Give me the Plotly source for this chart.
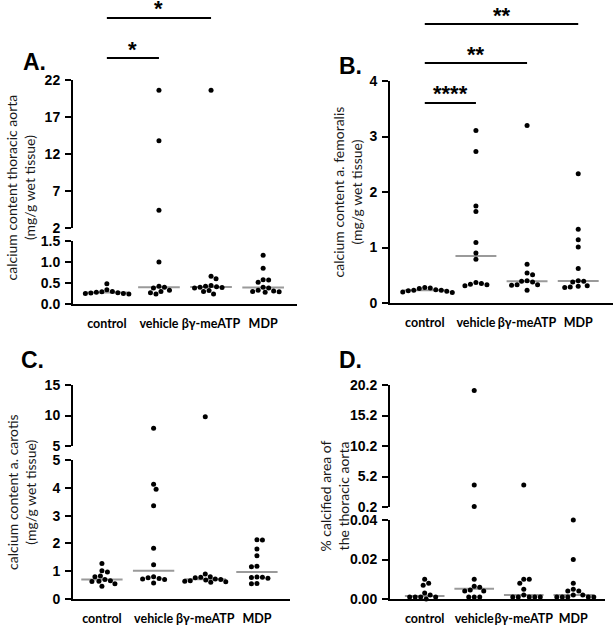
import numpy as np
import plotly.graph_objects as go

W, H = 616, 625

categories = ["control", "vehicle", "βγ-meATP", "MDP"]

# Panel A: calcium content thoracic aorta (mg/g wet tissue)
a_control = [0.48, 0.34, 0.30, 0.29, 0.28, 0.27, 0.26, 0.25, 0.25, 0.24]
a_vehicle = [20.6, 13.8, 4.4, 1.0, 0.42, 0.40, 0.38, 0.33, 0.30, 0.27, 0.24]
a_bgmeatp = [20.6, 0.66, 0.60, 0.44, 0.42, 0.41, 0.40, 0.39, 0.38, 0.32, 0.30, 0.24]
a_mdp = [1.16, 0.85, 0.58, 0.57, 0.52, 0.40, 0.38, 0.33, 0.31, 0.30, 0.29, 0.28]
a_lower_ticks = [0, 0.5, 1.0, 1.5]
a_upper_ticks = [2, 7, 12, 17, 22]

# Panel B: calcium content a. femoralis (mg/g wet tissue)
b_control = [0.28, 0.27, 0.26, 0.24, 0.23, 0.23, 0.22, 0.21, 0.20, 0.19]
b_vehicle = [3.11, 2.73, 1.75, 1.65, 1.09, 0.90, 0.79, 0.37, 0.35, 0.34, 0.33, 0.31]
b_bgmeatp = [3.2, 0.70, 0.54, 0.51, 0.40, 0.39, 0.38, 0.33, 0.33, 0.32, 0.23]
b_mdp = [2.33, 1.33, 1.14, 1.01, 0.62, 0.40, 0.39, 0.38, 0.31, 0.30, 0.29, 0.28]
b_ticks = [0, 1, 2, 3, 4]

# Panel C: calcium content a. carotis (mg/g wet tissue)
c_control = [1.28, 1.02, 0.97, 0.83, 0.80, 0.70, 0.66, 0.64, 0.63, 0.55, 0.46]
c_vehicle = [7.9, 4.13, 3.95, 3.35, 1.83, 1.23, 0.80, 0.76, 0.74, 0.72, 0.70, 0.58]
c_bgmeatp = [9.8, 0.90, 0.80, 0.78, 0.76, 0.72, 0.70, 0.68, 0.66, 0.64, 0.62, 0.60]
c_mdp = [2.13, 2.12, 1.80, 1.56, 1.18, 1.16, 0.79, 0.78, 0.77, 0.75, 0.56, 0.55]
c_lower_ticks = [0, 1, 2, 3, 4, 5]
c_upper_ticks = [5, 10, 15]

# Panel D: % calcified area of the thoracic aorta
d_control = [0.010, 0.008, 0.007, 0.003, 0.002, 0.001, 0.001, 0.001, 0.001, 0.0]
d_vehicle = [19.3, 3.8, 0.3, 0.010, 0.0065, 0.006, 0.0045, 0.004, 0.004, 0.001, 0.001, 0.001]
d_bgmeatp = [3.8, 0.010, 0.010, 0.008, 0.005, 0.002, 0.001, 0.001, 0.001, 0.001, 0.001]
d_mdp = [0.040, 0.020, 0.008, 0.005, 0.004, 0.004, 0.002, 0.002, 0.001, 0.001, 0.001, 0.001, 0.001]
d_lower_ticks = [0.00, 0.02, 0.04]
d_upper_ticks = [0.2, 5.2, 10.2, 15.2, 20.2]

# significance comparisons: (group i, group j, label)
a_sig = [(0, 1, "*"), (0, 2, "*")]
b_sig = [(0, 1, "****"), (0, 2, "**"), (0, 3, "**")]

TICKFONT = dict(family="Liberation Sans", size=14, color="black", weight=700)
CATFONT = dict(family="Lato", size=12.5, color="black", weight=700)
TITLEFONT = dict(family="Lato", size=14, color="#1a1a1a")


def px_x(p):
    return p / W


def px_y(p):
    return 1 - p / H


panels = [
    dict(letter="A.", letter_pos=(21, 62), data=[a_control, a_vehicle, a_bgmeatp, a_mdp],
         xpx=(73, 297), xrange=(-0.65, 3.65),
         segs=[dict(px=(304, 241), rng=(0, 1.5), ticks=a_lower_ticks, fmt=".1f"),
               dict(px=(228, 80), rng=(2, 22), ticks=a_upper_ticks, fmt="d")],
         title="calcium content thoracic aorta<br>(mg/g wet tissue)", title_pos=(20.5, 188),
         sig=a_sig, sig_y=[58, 18]),
    dict(letter="B.", letter_pos=(337, 66), data=[b_control, b_vehicle, b_bgmeatp, b_mdp],
         xpx=(390, 613), xrange=(-0.68, 3.68),
         segs=[dict(px=(303, 81), rng=(0, 4), ticks=b_ticks, fmt="d")],
         title="calcium content a. femoralis<br>(mg/g wet tissue)", title_pos=(347.5, 192),
         sig=b_sig, sig_y=[103, 63, 24]),
    dict(letter="C.", letter_pos=(19, 360), data=[c_control, c_vehicle, c_bgmeatp, c_mdp],
         xpx=(73, 290), xrange=(-0.56, 3.64),
         segs=[dict(px=(599, 460), rng=(0, 5), ticks=c_lower_ticks, fmt="d"),
               dict(px=(446, 385), rng=(5, 15), ticks=c_upper_ticks, fmt="d")],
         title="calcium content a. carotis<br>(mg/g wet tissue)", title_pos=(21, 492),
         sig=[], sig_y=[]),
    dict(letter="D.", letter_pos=(337, 360), data=[d_control, d_vehicle, d_bgmeatp, d_mdp],
         xpx=(390, 605), xrange=(-0.7, 3.64),
         segs=[dict(px=(599, 520), rng=(0, 0.04), ticks=d_lower_ticks, fmt=".2f"),
               dict(px=(507, 385), rng=(0.2, 20.2), ticks=d_upper_ticks, fmt=".1f")],
         title="% calcified area of<br>the thoracic aorta", title_pos=(333.5, 496),
         sig=[], sig_y=[]),
]


def seg_of(segs, v):
    for k, s in enumerate(segs):
        if s["rng"][0] <= v <= s["rng"][1] or k == len(segs) - 1:
            return k
    return len(segs) - 1


def val_to_px(seg, v):
    (pb, pt), (lo, hi) = seg["px"], seg["rng"]
    return pb + (v - lo) / (hi - lo) * (pt - pb)


def swarm(ypx, dmin=5.4):
    ypx = np.asarray(ypx, dtype=float)
    order = np.argsort(ypx)
    placed = []
    xs = np.zeros(len(ypx))
    flip = 1
    for i in order:
        y = ypx[i]
        best = None
        for step in range(0, 400):
            cands = [0.0] if step == 0 else [flip * step * 0.5, -flip * step * 0.5]
            for x in cands:
                if all((x - p) ** 2 + (y - q) ** 2 >= dmin ** 2 for p, q in placed):
                    best = x
                    break
            if best is not None:
                break
        if best != 0:
            flip = -flip
        xs[i] = best
        placed.append((best, y))
    return xs


fig = go.Figure()
layout = dict(shapes=[], annotations=[])
yid = 0
for pi, p in enumerate(panels):
    xname = "x" if pi == 0 else f"x{pi + 1}"
    xkey = "xaxis" if pi == 0 else f"xaxis{pi + 1}"
    ppu = (p["xpx"][1] - p["xpx"][0]) / (p["xrange"][1] - p["xrange"][0])
    ynames = []
    for si, s in enumerate(p["segs"]):
        yid += 1
        yname = "y" if yid == 1 else f"y{yid}"
        ykey = "yaxis" if yid == 1 else f"yaxis{yid}"
        ynames.append(yname)
        layout[ykey] = dict(
            domain=[px_y(s["px"][0]), px_y(s["px"][1])], range=list(s["rng"]),
            anchor=xname, showline=True, linewidth=2, linecolor="black",
            ticks="outside", ticklen=6, tickwidth=2, tickcolor="black",
            tickvals=s["ticks"], tickformat=s["fmt"], tickfont=TICKFONT,
            showgrid=False, zeroline=False, fixedrange=True, ticklabelstandoff=2,
            automargin=False,
        )
    layout[xkey] = dict(
        domain=[px_x(p["xpx"][0]), px_x(p["xpx"][1])], range=list(p["xrange"]),
        anchor=ynames[0], showline=True, linewidth=2, linecolor="black",
        tickvals=list(range(len(categories))), ticktext=categories,
        ticks="outside", ticklen=7, tickcolor="rgba(0,0,0,0)", tickfont=CATFONT,
        tickangle=0, showgrid=False, zeroline=False, fixedrange=True,
        automargin=False,
    )
    for gi, vals in enumerate(p["data"]):
        vals = np.asarray(vals, dtype=float)
        segidx = np.array([seg_of(p["segs"], v) for v in vals])
        ypx = np.array([val_to_px(p["segs"][k], v) for k, v in zip(segidx, vals)])
        xo = swarm(ypx) / ppu
        med = float(np.median(vals))
        mk = seg_of(p["segs"], med)
        fig.add_trace(go.Scatter(
            x=[gi - 0.4, gi + 0.4], y=[med, med], xaxis=xname, yaxis=ynames[mk],
            mode="lines", line=dict(color="#9a9a9a", width=2), showlegend=False,
            hoverinfo="skip"))
        for k in range(len(p["segs"])):
            m = segidx == k
            if m.any():
                fig.add_trace(go.Scatter(
                    x=gi + xo[m], y=vals[m], xaxis=xname, yaxis=ynames[k],
                    mode="markers", marker=dict(color="black", size=5, line=dict(width=0)),
                    showlegend=False, cliponaxis=False))
    # panel letter
    layout["annotations"].append(dict(
        text=f"<b>{p['letter']}</b>", x=px_x(p["letter_pos"][0]), y=px_y(p["letter_pos"][1]),
        xref="paper", yref="paper", xanchor="left", yanchor="middle", showarrow=False,
        font=dict(family="Liberation Sans", size=23, color="black")))
    # y title
    layout["annotations"].append(dict(
        text=p["title"], x=px_x(p["title_pos"][0]), y=px_y(p["title_pos"][1]),
        xref="paper", yref="paper", xanchor="center", yanchor="middle", showarrow=False,
        textangle=-90, font=TITLEFONT))
    # significance
    for (i, j, lab), yb in zip(p["sig"], p["sig_y"]):
        layout["shapes"].append(dict(
            type="line", xref=xname, yref="paper", x0=i, x1=j, y0=px_y(yb), y1=px_y(yb),
            line=dict(color="black", width=2)))
        layout["annotations"].append(dict(
            text=f"<b>{lab}</b>", x=(i + j) / 2, y=px_y(yb - 9), xref=xname, yref="paper",
            xanchor="center", yanchor="middle", showarrow=False,
            font=dict(family="Liberation Sans", size=22, color="black")))

fig.update_layout(
    template="none",
    width=W, height=H, margin=dict(l=0, r=0, t=0, b=0, autoexpand=False),
    paper_bgcolor="white", plot_bgcolor="white", **layout)

fig.write_html("out.html", config={"displayModeBar": False, "staticPlot": True},
               post_script="document.body.style.margin='0';document.body.style.overflow='hidden';")
